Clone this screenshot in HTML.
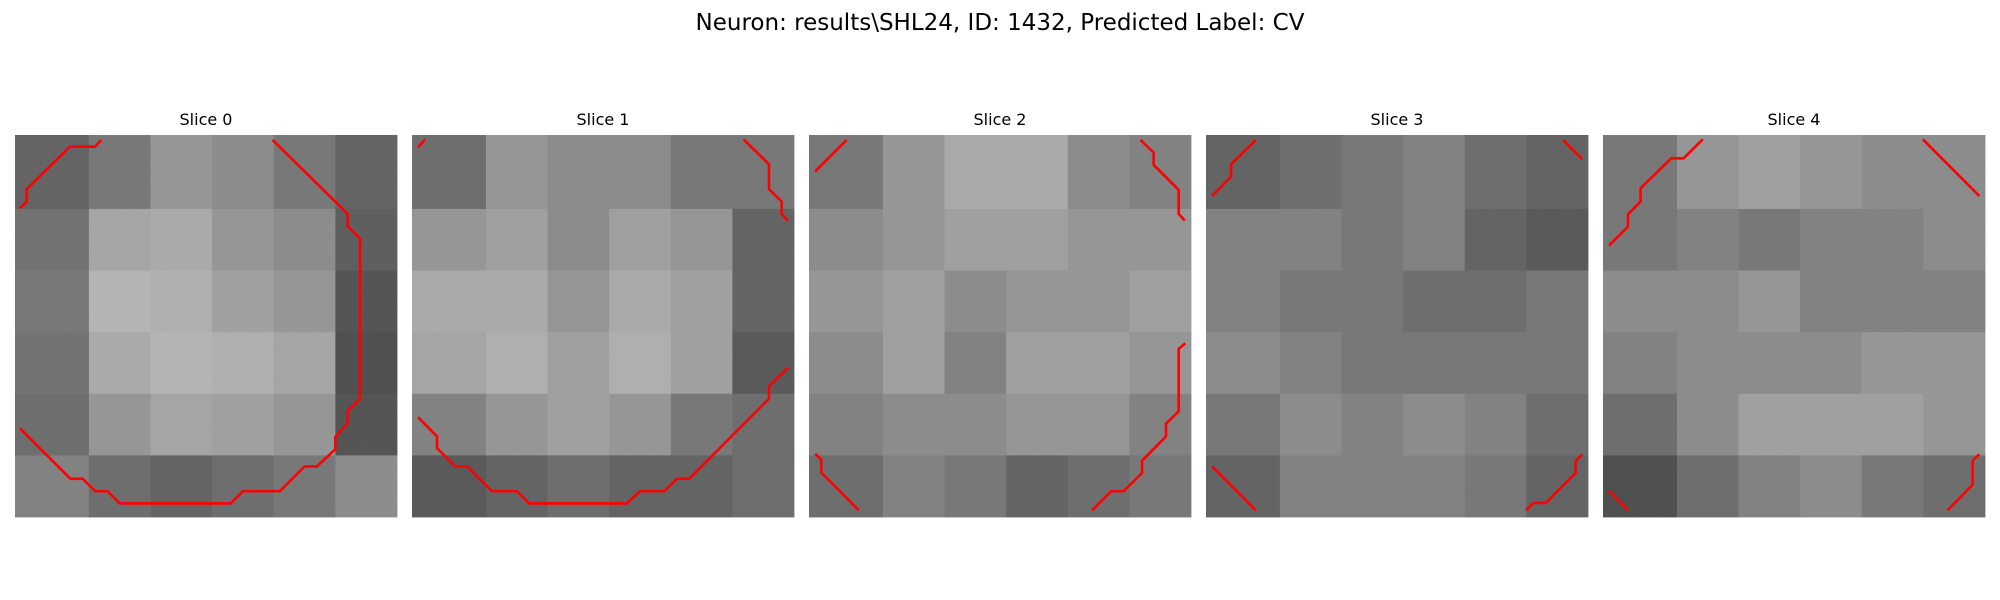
<!DOCTYPE html>
<html><head><meta charset="utf-8"><style>
html,body{margin:0;padding:0;background:#fff;width:2000px;height:600px;overflow:hidden}
svg{display:block;font-family:"DejaVu Sans","Liberation Sans",sans-serif}
</style></head><body>
<svg id="fig" width="2000" height="600" viewBox="0 0 2000 600">
<text x="1000" y="30" text-anchor="middle" font-size="23" fill="#000">Neuron: results\SHL24, ID: 1432, Predicted Label: CV</text>
</svg>
<script>
const sliceTitles = ["Slice 0","Slice 1","Slice 2","Slice 3","Slice 4"];
const grid0 = [[100,120,150,140,120,100],[115,165,170,150,140,95],[120,180,175,160,150,85],[115,170,180,175,165,80],[110,150,165,160,150,85],[130,110,100,110,120,140]];
const grid1 = [[110,150,140,140,120,120],[150,160,140,160,150,100],[170,170,150,170,160,100],[165,175,160,175,160,90],[130,150,160,150,120,110],[90,100,110,100,100,110]];
const grid2 = [[120,150,170,170,140,130],[140,150,160,160,150,150],[150,160,140,150,150,160],[140,160,130,160,160,150],[130,140,140,150,150,130],[110,130,120,100,110,120]];
const grid3 = [[100,110,120,130,110,100],[130,130,120,130,100,90],[130,120,120,110,110,120],[140,130,120,120,120,120],[120,140,130,140,130,110],[100,130,130,130,120,100]];
const grid4 = [[120,150,160,150,140,140],[120,130,120,130,130,140],[140,140,150,130,130,130],[130,140,140,140,150,150],[110,140,160,160,160,150],[80,110,130,140,120,110]];
const grids = [grid0,grid1,grid2,grid3,grid4];
const contours0 = [[[0.4,5.95],[0.95,5.4],[0.95,4.4],[4.46,0.95],[6.5,0.95],[7.0,0.4]],
 [[20.9,0.4],[27,6.4],[27,7.4],[28,8.4],[28,21.4],[27,22.4],[27,23.4],[26,24.5],[26,25.5],[24.5,26.9],[23.5,26.9],[21.5,28.9],[18.5,28.9],[17.5,29.9],[8.5,29.9],[7.5,28.9],[6.5,28.9],[5.5,27.9],[4.5,27.9],[0.4,23.8]]];
const contours1 = [[[0.49,1.0],[1.08,0.35]],
 [[26.9,0.35],[28.97,2.38],[28.97,4.4],[30,5.4],[30,6.4],[30.5,6.95]],
 [[0.49,22.9],[2.03,24.46],[2.03,25.4],[3.51,26.9],[4.46,26.9],[6.49,28.9],[8.51,28.9],[9.51,29.9],[17.43,29.9],[18.51,28.9],[20.49,28.9],[21.49,27.9],[22.49,27.9],[28.97,21.4],[28.97,20.4],[30.54,18.86]]];
const contours2 = [[[0.49,2.97],[3.05,0.4]],
 [[26.9,0.4],[27.97,1.43],[27.97,2.43],[30,4.46],[30,6.4],[30.5,6.95]],
 [[0.49,25.86],[1,26.35],[1,27.4],[4.05,30.46]],
 [[22.97,30.46],[24.54,28.9],[25.54,28.9],[27.03,27.43],[27.03,26.43],[28.97,24.46],[28.97,23.43],[30,22.43],[30,17.35],[30.54,16.9]]];
const contours3 = [[[0.49,4.95],[2.03,3.38],[2.03,2.38],[4.05,0.4]],
 [[28.97,0.4],[30.54,1.97]],
 [[0.49,26.9],[4.05,30.46]],
 [[25.95,30.46],[26.6,29.86],[27.57,29.86],[30,27.43],[30,26.43],[30.54,25.9]]];
const contours4 = [[[0.49,8.97],[2.03,7.43],[2.03,6.43],[3.05,5.4],[3.05,4.32],[5.54,1.89],[6.54,1.89],[8.1,0.35]],
 [[25.95,0.35],[30.54,4.95]],
 [[0.49,28.86],[2.03,30.46]],
 [[27.97,30.46],[30,28.38],[30,26.43],[30.54,25.9]]];
const contours = [contours0,contours1,contours2,contours3,contours4];

const NS = "http://www.w3.org/2000/svg";
const svg = document.getElementById("fig");
const N = 31, panelSize = 382, panelTop = 135, panelLeft0 = 15, panelStep = 397;
const cell = panelSize / N;
function xScale(p, c){ return panelLeft0 + p*panelStep + c*cell; }
function yScale(r){ return panelTop + r*cell; }

grids.forEach((g, p) => {
  const grp = document.createElementNS(NS, "g");
  
  
  svg.appendChild(grp);
  const t = document.createElementNS(NS, "text");
  t.setAttribute("x", xScale(p, N/2));
  t.setAttribute("y", 125);
  t.setAttribute("text-anchor", "middle");
  t.setAttribute("font-size", "16");
  t.textContent = sliceTitles[p];
  
  
  grp.appendChild(t);
  const G = g.length;
  for (let r = 0; r < N; r++) {
    for (let c = 0; c < N; c++) {
      const v = g[Math.min(G-1, Math.floor(r*G/N))][Math.min(G-1, Math.floor(c*G/N))];
      const rect = document.createElementNS(NS, "rect");
      rect.setAttribute("x", xScale(p, c));
      rect.setAttribute("y", yScale(r));
      rect.setAttribute("width", cell + 0.4);
      rect.setAttribute("height", cell + 0.4);
      rect.setAttribute("fill", `rgb(${v},${v},${v})`);
      
      
      grp.appendChild(rect);
    }
  }
  contours[p].forEach((line) => {
    const pl = document.createElementNS(NS, "polyline");
    pl.setAttribute("points", line.map(pt => xScale(p, pt[0]) + "," + yScale(pt[1])).join(" "));
    pl.setAttribute("fill", "none");
    pl.setAttribute("stroke", "#ff0000");
    pl.setAttribute("stroke-width", "2.6");
    
    
    grp.appendChild(pl);
  });
});
</script>
</body></html>
